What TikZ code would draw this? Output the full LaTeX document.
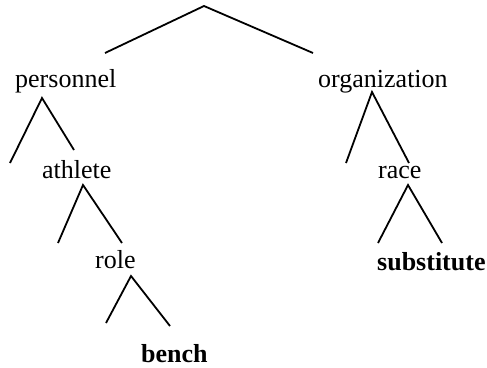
\documentclass[tikz,border=0pt]{standalone}
\usepackage{fontspec}
\setmainfont{Liberation Serif}
\begin{document}
\begin{tikzpicture}[x=1pt,y=-1pt,
  lbl/.style={anchor=base west,inner sep=0pt,font=\fontsize{26}{30}\selectfont},
  blbl/.style={lbl,font=\fontsize{26}{30}\selectfont\bfseries},
  edge/.style={line width=1.8pt}]
\useasboundingbox (0,0) rectangle (487,367);
% labels
\node[lbl] (personnel) at (15,87) {personnel};
\node[lbl] (organization) at (318,87) {organization};
\node[lbl] (athlete) at (42,178) {athlete};
\node[lbl] (role) at (95,268) {role};
\node[blbl] (bench) at (141,362) {bench};
\node[lbl] (race) at (378,178) {race};
\node[blbl] (substitute) at (377,270) {substitute};
% fork points
\coordinate (r) at (204,6);
\coordinate (rl) at (105,53);
\coordinate (rr) at (313,53);
\coordinate (p) at (42,98);
\coordinate (pl) at (10,163);
\coordinate (pr) at (74,150);
\coordinate (a) at (83,185);
\coordinate (al) at (58,243);
\coordinate (ar) at (122,243);
\coordinate (ro) at (131,276);
\coordinate (rol) at (106,323);
\coordinate (ror) at (170,326);
\coordinate (o) at (372,92);
\coordinate (ol) at (346,163);
\coordinate (or) at (409,163);
\coordinate (ra) at (408,185);
\coordinate (ral) at (378,243);
\coordinate (rar) at (442,243);
\draw[edge] (rl) -- (r) -- (rr);
\draw[edge] (pl) -- (p) -- (pr);
\draw[edge] (al) -- (a) -- (ar);
\draw[edge] (rol) -- (ro) -- (ror);
\draw[edge] (ol) -- (o) -- (or);
\draw[edge] (ral) -- (ra) -- (rar);
\end{tikzpicture}
\end{document}
